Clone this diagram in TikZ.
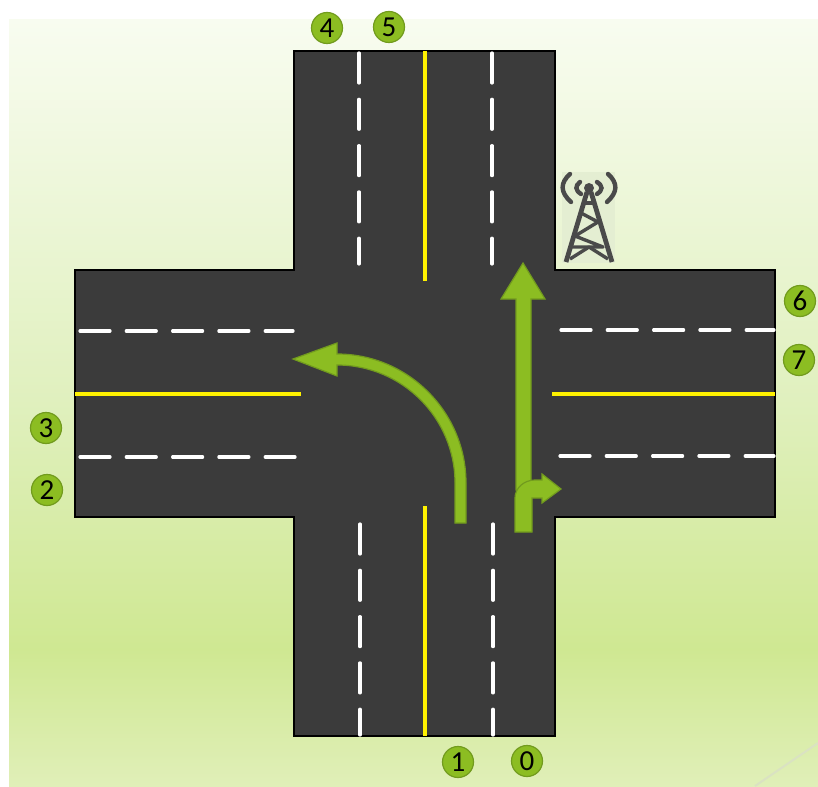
\documentclass[tikz,border=0pt]{standalone}
\usepackage{fontspec}
\setmainfont{Carlito}
\definecolor{roadgray}{HTML}{3B3B3B}
\definecolor{leaf}{HTML}{8CBD22}
\definecolor{leafdark}{HTML}{729B1E}
\definecolor{towergray}{HTML}{4A4A4A}
\definecolor{skytop}{RGB}{248,252,240}
\definecolor{skymid}{RGB}{224,240,190}
\definecolor{skylow}{RGB}{207,232,146}
\definecolor{skyend}{RGB}{224,239,184}
\begin{document}
\begin{tikzpicture}[
  x=1pt, y=-1pt,
  lane/.style={circle, draw=leafdark, fill=leaf, line width=1.2pt, minimum size=31pt, inner sep=0pt, font=\fontsize{29}{29}\selectfont},
  road/.style={draw=black, fill=roadgray, line width=1.6pt},
  solidline/.style={yellow, line width=3.4pt},
  dashline/.style={white, line width=3.2pt, line cap=round, dash pattern=on 30pt off 16.3pt},
  turn/.style={draw=leafdark, fill=leaf, line width=1.2pt, line join=miter},
  wave/.style={towergray, line width=4.4pt, line cap=round},
  beam/.style={towergray, line width=3.4pt, line join=round}
]
\useasboundingbox (0,0) rectangle (818,786);

% background
\fill[white] (0,0) rectangle (818,786);
\shade[top color=skytop, bottom color=skymid] (9,20) rectangle (818,400);
\shade[top color=skymid, bottom color=skylow] (9,399) rectangle (818,650);
\shade[top color=skylow, bottom color=skyend] (9,649) rectangle (818,786);
\draw[color={rgb,255:red,218;green,226;blue,194}, line width=2pt] (755,786) -- (818,743);

% road
\draw[road] (294,51) -- (555,51) -- (555,270) -- (775,270) -- (775,517) -- (555,517)
  -- (555,736) -- (294,736) -- (294,517) -- (75,517) -- (75,270) -- (294,270) -- cycle;

\draw[solidline] (425,51) -- (425,281);
\draw[solidline] (425,506) -- (425,736);
\draw[solidline] (75,394) -- (301,394);
\draw[solidline] (552,394) -- (775,394);

\draw[dashline] (359,53) -- (359,264);
\draw[dashline] (492,53) -- (492,264);
\draw[dashline] (360,524) -- (360,735);
\draw[dashline] (493,524) -- (493,735);
\draw[dashline] (80,331) -- (293,331);
\draw[dashline] (80,457) -- (295,457);
\draw[dashline] (561,330) -- (774,330);
\draw[dashline] (560,456) -- (774,456);

% arrows
\draw[turn] (466,523) -- (466,483) .. controls (466,412) and (408,354) .. (337,354)
  -- (337,343) -- (293,359) -- (337,376) -- (337,365)
  .. controls (402,365) and (455,418) .. (455,483) -- (455,523) -- cycle;
\draw[turn] (516,490) -- (516,299) -- (501,299) -- (523,263) -- (545,299) -- (531,299) -- (531,490) -- cycle;
\draw[turn] (515,532) -- (515,498) .. controls (515,488) and (524,480) .. (535,480)
  -- (542,480) -- (542,474) -- (561,489) -- (542,503) -- (542,498) -- (532,498) -- (532,532) -- cycle;

% tower
\fill[color={rgb,255:red,228;green,238;blue,210}] (562,172) rectangle (615,263);
\draw[wave] (570,174) .. controls (560,183) and (560,192) .. (571,202);
\draw[wave] (580,182) .. controls (575,186) and (575,190) .. (581,194);
\draw[wave] (608,174) .. controls (618,183) and (618,192) .. (607,202);
\draw[wave] (597,182) .. controls (603,186) and (603,190) .. (597,194);
\fill[towergray] (589,188) circle (5);
\draw[towergray, line width=4.8pt] (587,192) -- (566,262);
\draw[towergray, line width=4.8pt] (591,192) -- (612,262);
\draw[beam] (584,203) -- (594,203);
\draw[beam] (581,213) -- (598,222) -- (575,236) -- (603,247) -- (572,247);
\draw[beam] (570,259) -- (589,247) -- (608,259);

% lane numbers
\node[lane] (n0) at (527,761) {0};
\node[lane] (n1) at (458,762) {1};
\node[lane] (n2) at (47,490) {2};
\node[lane] (n3) at (46,428) {3};
\node[lane] (n4) at (327,28) {4};
\node[lane] (n5) at (389,27) {5};
\node[lane] (n6) at (800,301) {6};
\node[lane] (n7) at (799,360) {7};
\end{tikzpicture}
\end{document}
